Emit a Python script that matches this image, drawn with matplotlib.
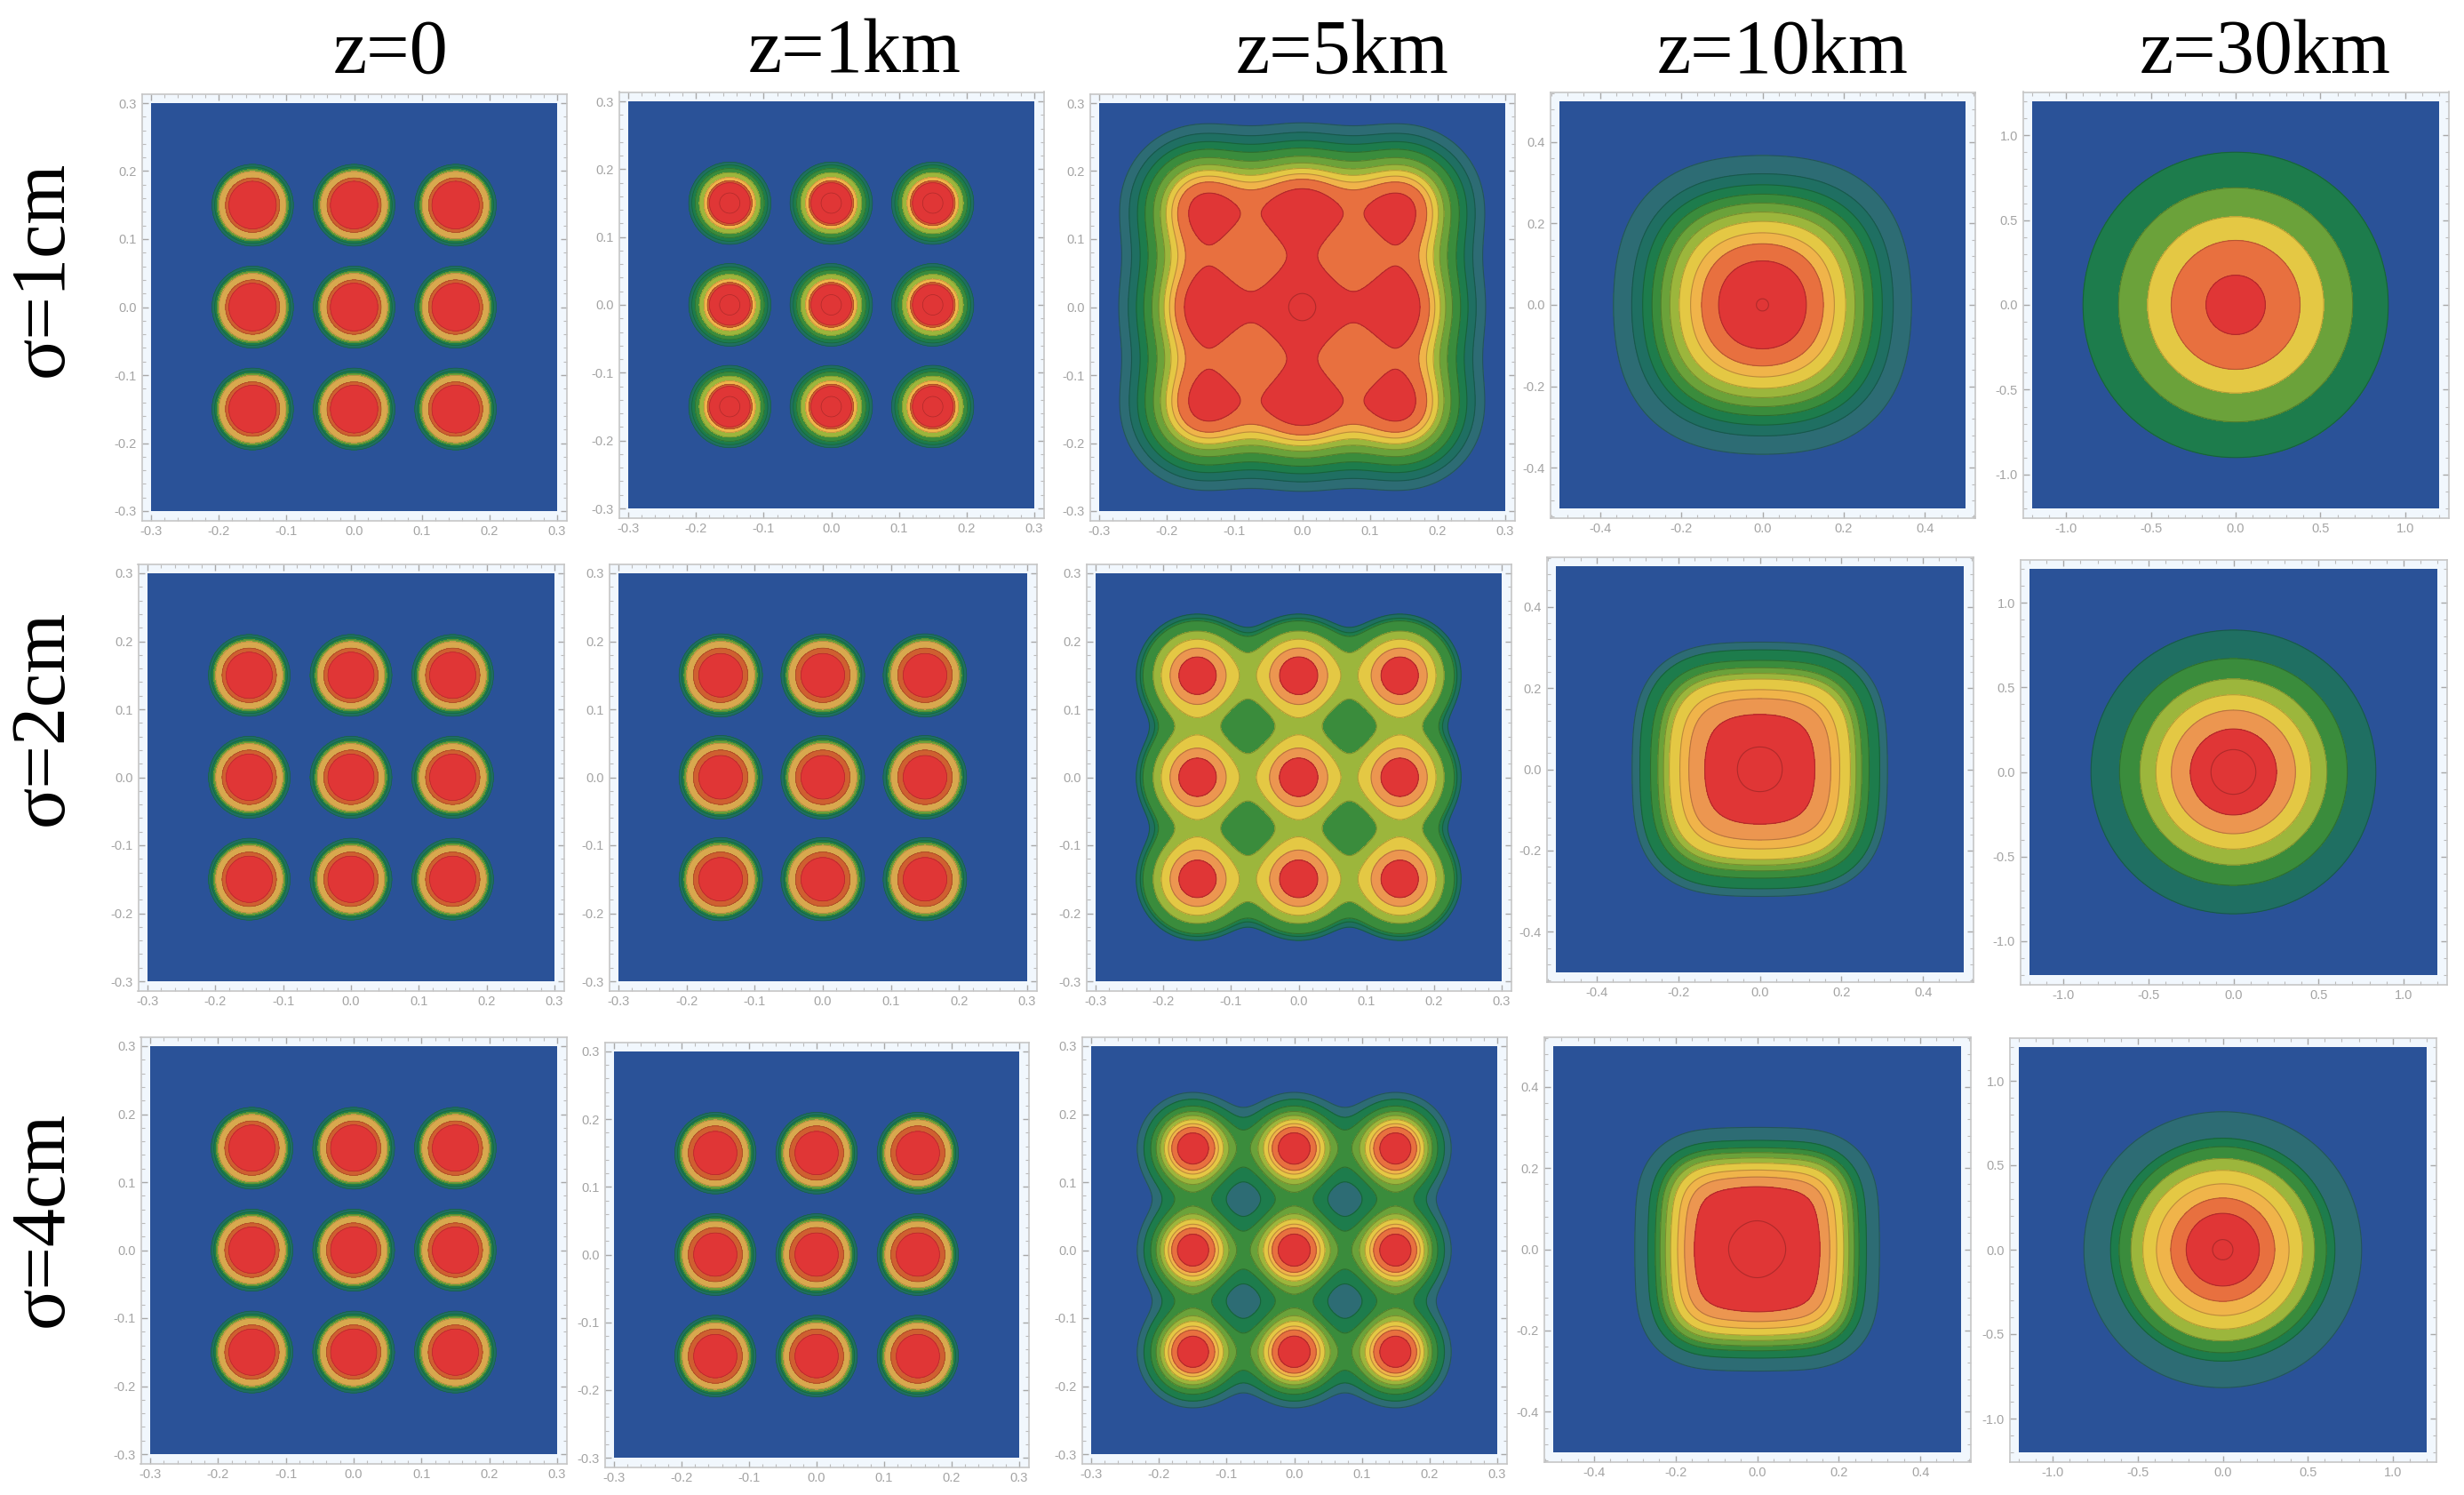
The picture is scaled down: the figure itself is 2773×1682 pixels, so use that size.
import numpy as np
import matplotlib
matplotlib.use("Agg")
import matplotlib.pyplot as plt
from matplotlib.colors import to_rgb
from matplotlib.ticker import MultipleLocator, FormatStrFormatter

W, H = 2773, 1682

# ---------- text ----------
z_titles = ["z=0", "z=1km", "z=5km", "z=10km", "z=30km"]
sigma_labels = ["σ=1cm", "σ=2cm", "σ=4cm"]

# ---------- colours of the contour bands ----------
BLUE = "#2a5298"; TEAL = "#2d6c74"; DTEAL = "#1f6f62"; DGREEN = "#1d7c4c"
GREEN = "#3a8c3c"; MGREEN = "#6ba23a"; YGREEN = "#9cb63c"; YELLOW = "#e4c844"
TAN = "#d8a84e"; GOLD = "#f0b44a"; LORANGE = "#ec9650"; ORANGE = "#e8703f"
DORANGE = "#cf5f30"; RED = "#e03636"

# ---------- values ----------
# emitter positions along each axis (km)
emitters = [-0.15, 0.0, 0.15]
# half extent of each column's plot range
plot_range = [0.3, 0.3, 0.3, 0.5, 1.2]
# spot width in each panel, rows sigma=1,2,4; columns z=0,1,5,10,30
spot_width = [
    [0.05, 0.05, 0.125, 0.25, 0.58],
    [0.05, 0.05, 0.085, 0.19, 0.55],
    [0.05, 0.05, 0.085, 0.17, 0.52],
]
# band edges: distance from the centre along +x where each contour crosses
d00 = [0.21, 0.206, 0.2025, 0.1995, 0.19, 0.185]
d01 = [0.2105, 0.206, 0.201, 0.195, 0.188, 0.183, 0.180, 0.165]
d02 = [0.271, 0.257, 0.245, 0.234, 0.222, 0.212, 0.204, 0.196, 0.188, 0.174, 0.02]
d03 = [0.367, 0.322, 0.295, 0.272, 0.25, 0.228, 0.205, 0.177, 0.15, 0.108, 0.015]
d04 = [0.9, 0.69, 0.52, 0.38, 0.175]
d10 = [0.21, 0.206, 0.2025, 0.1995, 0.19, 0.184]
d11 = [0.211, 0.207, 0.2035, 0.2, 0.19, 0.182]
d12 = [0.24, 0.234, 0.23, 0.215, 0.203, 0.19, 0.177]
d13 = [0.313, 0.294, 0.268, 0.25, 0.236, 0.222, 0.196, 0.174, 0.135, 0.055]
d14 = [0.838, 0.67, 0.55, 0.456, 0.365, 0.254, 0.132]
d20 = [0.21, 0.206, 0.2025, 0.1995, 0.19, 0.184]
d21 = [0.21, 0.206, 0.2025, 0.199, 0.19, 0.182]
d22 = [0.232, 0.222, 0.212, 0.204, 0.198, 0.192, 0.186, 0.181, 0.1725]
d23 = [0.3, 0.268, 0.25, 0.238, 0.225, 0.212, 0.195, 0.178, 0.154, 0.07]
d24 = [0.817, 0.66, 0.61, 0.54, 0.47, 0.39, 0.306, 0.215, 0.06]
band_edges = [[d00, d01, d02, d03, d04],
              [d10, d11, d12, d13, d14],
              [d20, d21, d22, d23, d24]]

c_z0 = [DTEAL, DGREEN, MGREEN, TAN, DORANGE, RED]
c01 = [DTEAL, DGREEN, GREEN, YGREEN, GOLD, DORANGE, RED, RED]
c02 = [TEAL, DTEAL, DGREEN, GREEN, MGREEN, YGREEN, YELLOW, GOLD, ORANGE, RED, RED]
c03 = [TEAL, DTEAL, DGREEN, GREEN, MGREEN, YGREEN, YELLOW, GOLD, ORANGE, RED, RED]
c04 = [DGREEN, MGREEN, YELLOW, ORANGE, RED]
c12 = [DTEAL, DGREEN, GREEN, YGREEN, YELLOW, LORANGE, RED]
c13 = [TEAL, DGREEN, GREEN, MGREEN, YGREEN, YELLOW, GOLD, LORANGE, RED, RED]
c14 = [DTEAL, GREEN, YGREEN, YELLOW, LORANGE, RED, RED]
c22 = [TEAL, DGREEN, GREEN, MGREEN, YGREEN, YELLOW, GOLD, ORANGE, RED]
c23 = [TEAL, DGREEN, GREEN, MGREEN, YGREEN, YELLOW, GOLD, LORANGE, RED, RED]
c24 = [TEAL, DGREEN, GREEN, YGREEN, YELLOW, GOLD, ORANGE, RED, RED]
band_colors = [[c_z0, c01, c02, c03, c04],
               [c_z0, c_z0, c12, c13, c14],
               [c_z0, c_z0, c22, c23, c24]]

# ---------- layout (pixels, from the top left of the picture) ----------
blue_boxes = [
    [(170, 116, 627, 575), (707, 114, 1164, 572), (1237, 116, 1694, 575), (1755, 114, 2212, 572), (2287, 114, 2745, 572)],
    [(166, 645, 624, 1104), (696, 645, 1156, 1104), (1233, 645, 1690, 1104), (1751, 637, 2210, 1094), (2284, 640, 2743, 1097)],
    [(169, 1177, 627, 1636), (691, 1183, 1147, 1640), (1228, 1177, 1685, 1636), (1748, 1177, 2207, 1634), (2272, 1178, 2731, 1634)],
]
FRAME_PAD = 10.5
title_x = [440, 962, 1511, 2006, 2549]
TITLE_BASE = 82
label_y = [302, 807, 1371]
LABEL_X = 49
major_step = {0.3: 0.1, 0.5: 0.2, 1.2: 0.5}
minor_step = {0.3: 0.02, 0.5: 0.04, 1.2: 0.1}
line_width = [0.45, 0.5, 0.8, 0.8, 0.8]

TICK_FONT = "Liberation Sans"
SERIF = "Liberation Serif"


def field(x, y, w):
    total = 0
    for ex in emitters:
        for ey in emitters:
            total = total + np.exp(-2 * ((x - ex) ** 2 + (y - ey) ** 2) / w ** 2)
    return total


def darker(c, f=0.78):
    return tuple(v * f for v in to_rgb(c))


fig = plt.figure(figsize=(W / 100, H / 100), dpi=100, facecolor="white")

for r in range(3):
    for c in range(5):
        x0, y0, x1, y1 = blue_boxes[r][c]
        rng = plot_range[c]
        ax = fig.add_axes([(x0 - FRAME_PAD) / W, 1 - (y1 + FRAME_PAD) / H,
                           (x1 - x0 + 2 * FRAME_PAD) / W, (y1 - y0 + 2 * FRAME_PAD) / H])
        ax.set_facecolor("#f1f7fd")
        grid = np.linspace(-rng, rng, 801)
        X, Y = np.meshgrid(grid, grid)
        w = spot_width[r][c]
        Z = field(X, Y, w)
        levels = [float(field(np.array(d), np.array(0.0), w)) for d in band_edges[r][c]]
        cols = band_colors[r][c]
        fill_levels = [-1.0] + levels + [float(Z.max()) + 1.0]
        ax.contourf(X, Y, Z, levels=fill_levels, colors=[BLUE] + cols, antialiased=True)
        ax.contourf(X, Y, Z, levels=fill_levels, colors=[BLUE] + cols, antialiased=False)
        ax.contour(X, Y, Z, levels=levels, colors=[darker(k) for k in cols], linewidths=line_width[c])
        lim = rng * (1 + 2 * FRAME_PAD / (x1 - x0))
        ax.set_xlim(-lim, lim)
        ax.set_ylim(-rng * (1 + 2 * FRAME_PAD / (y1 - y0)), rng * (1 + 2 * FRAME_PAD / (y1 - y0)))
        for axis in (ax.xaxis, ax.yaxis):
            axis.set_major_locator(MultipleLocator(major_step[rng]))
            axis.set_minor_locator(MultipleLocator(minor_step[rng]))
            axis.set_major_formatter(FormatStrFormatter("%.1f"))
        ax.tick_params(which="major", direction="in", length=5, width=1, color="#a8a8a8",
                       top=True, right=True, labelsize=10.5, labelcolor="#a4a4a4", pad=4)
        ax.tick_params(which="minor", direction="in", length=3, width=0.8, color="#bcbcbc",
                       top=True, right=True)
        for lab in ax.get_xticklabels() + ax.get_yticklabels():
            lab.set_fontfamily(TICK_FONT)
        for s in ax.spines.values():
            s.set_color("#c6c6c6")
            s.set_linewidth(1.2)

for name, x in zip(z_titles, title_x):
    fig.text(x / W, 1 - TITLE_BASE / H, name, ha="center", va="baseline",
             fontsize=62, family=SERIF, color="black")
for name, y in zip(sigma_labels, label_y):
    fig.text(LABEL_X / W, 1 - y / H, name, ha="center", va="center", rotation=90,
             fontsize=62, family=SERIF, color="black")

fig.savefig("out.png", dpi=100, facecolor="white")
